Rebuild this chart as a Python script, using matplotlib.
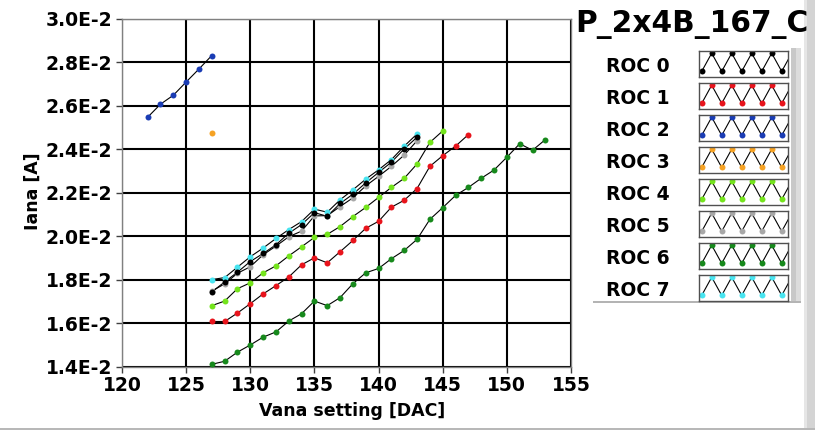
import matplotlib
matplotlib.use("Agg")
import matplotlib.pyplot as plt
from matplotlib.patches import Rectangle
from matplotlib.ticker import FuncFormatter, MultipleLocator
import numpy as np

# Vana scan per ROC: DAC setting and analog current (in units of 1E-2 A)
roc0_dac = [127, 128, 129, 130, 131, 132, 133, 134, 135, 136, 137, 138, 139, 140, 141, 142, 143]
roc0_iana = [1.744, 1.790, 1.835, 1.884, 1.921, 1.961, 2.014, 2.054, 2.109, 2.092, 2.151, 2.194, 2.246, 2.294, 2.341, 2.402, 2.456]

roc1_dac = [127, 128, 129, 130, 131, 132, 133, 134, 135, 136, 137, 138, 139, 140, 141, 142, 143, 144, 145, 146, 147]
roc1_iana = [1.608, 1.608, 1.647, 1.690, 1.735, 1.773, 1.813, 1.869, 1.901, 1.878, 1.929, 1.981, 2.037, 2.069, 2.134, 2.166, 2.220, 2.322, 2.371, 2.415, 2.468]

roc2_dac = [122, 123, 124, 125, 126, 127]
roc2_iana = [2.548, 2.608, 2.649, 2.710, 2.770, 2.832]

roc3_dac = [127]
roc3_iana = [2.474]

roc4_dac = [127, 128, 129, 130, 131, 132, 133, 134, 135, 136, 137, 138, 139, 140, 141, 142, 143, 144, 145]
roc4_iana = [1.681, 1.702, 1.759, 1.786, 1.832, 1.864, 1.910, 1.952, 1.995, 2.009, 2.045, 2.091, 2.133, 2.179, 2.225, 2.267, 2.333, 2.432, 2.485]

roc5_dac = [127, 128, 129, 130, 131, 132, 133, 134, 135, 136, 137, 138, 139, 140, 141, 142, 143]
roc5_iana = [1.748, 1.781, 1.830, 1.860, 1.915, 1.955, 1.998, 2.024, 2.094, 2.095, 2.137, 2.177, 2.232, 2.276, 2.322, 2.374, 2.440]

roc6_dac = [127, 128, 129, 130, 131, 132, 133, 134, 135, 136, 137, 138, 139, 140, 141, 142, 143, 144, 145, 146, 147, 148, 149, 150, 151, 152, 153]
roc6_iana = [1.411, 1.425, 1.467, 1.500, 1.536, 1.560, 1.610, 1.644, 1.702, 1.681, 1.718, 1.782, 1.832, 1.852, 1.897, 1.935, 1.986, 2.078, 2.132, 2.188, 2.225, 2.267, 2.305, 2.364, 2.426, 2.396, 2.445]

roc7_dac = [127, 128, 129, 130, 131, 132, 133, 134, 135, 136, 137, 138, 139, 140, 141, 142, 143]
roc7_iana = [1.801, 1.810, 1.858, 1.906, 1.946, 1.990, 2.031, 2.068, 2.125, 2.111, 2.168, 2.214, 2.263, 2.306, 2.353, 2.415, 2.471]

roc_names = ["ROC 0", "ROC 1", "ROC 2", "ROC 3", "ROC 4", "ROC 5", "ROC 6", "ROC 7"]
roc_colors = ["#000000", "#e8141c", "#1a3cb4", "#f5a224", "#74e41c", "#a8a8a8", "#17891c", "#48e4f0"]
module_name = "P_2x4B_167_C"

all_dac = [roc0_dac, roc1_dac, roc2_dac, roc3_dac, roc4_dac, roc5_dac, roc6_dac, roc7_dac]
all_iana = [roc0_iana, roc1_iana, roc2_iana, roc3_iana, roc4_iana, roc5_iana, roc6_iana, roc7_iana]

W, H = 815, 430
plt.rcParams['font.family'] = ['DejaVu Sans']
plt.rcParams['font.weight'] = 'bold'
fig = plt.figure(figsize=(W / 100, H / 100), dpi=100)


def px_axes(x0, y0, x1, y1, **kw):
    # axes from pixel box (top-left origin)
    return fig.add_axes([x0 / W, 1 - y1 / H, (x1 - x0) / W, (y1 - y0) / H], **kw)


ax = px_axes(122, 19, 571, 366.7)
for i in reversed(range(8)):
    y = np.array(all_iana[i]) * 1e-2
    ls = '-' if len(y) > 1 else 'none'
    ax.plot(all_dac[i], y, ls, color='black', lw=0.8, zorder=3)
    ax.plot(all_dac[i], y, 'o', color=roc_colors[i], ms=4.3, mec='none', zorder=4)

ax.set_xlim(120, 155)
ax.set_ylim(0.014, 0.030)
ax.xaxis.set_major_locator(MultipleLocator(5))
ax.yaxis.set_major_locator(MultipleLocator(0.002))
ax.yaxis.set_major_formatter(FuncFormatter(lambda v, p: f"{v * 100:.1f}E-2"))
ax.grid(True, color='black', lw=1.5, zorder=1)
ax.set_axisbelow(True)
for s in ax.spines.values():
    s.set_color('#808080')
    s.set_linewidth(1.0)
ax.tick_params(direction='out', length=4, width=1, color='#404040', labelsize=13.5, pad=3)
for lab in ax.get_xticklabels() + ax.get_yticklabels():
    lab.set_fontweight('bold')

ax.set_xlabel("Vana setting [DAC]", fontsize=12.5, fontweight='bold')
ax.xaxis.set_label_coords(0.513, -0.102)
ax.set_ylabel("Iana [A]", fontsize=12.5, fontweight='bold', va='center')
ax.yaxis.set_label_coords(-0.198, 0.505)

# title
fig.text(575 / W, 1 - 32 / H, module_name, fontsize=21.3, fontweight='bold', va='baseline', ha='left')

# legend panel
lg = px_axes(0, 0, W, H)
lg.set_xlim(0, W)
lg.set_ylim(H, 0)
lg.axis('off')
lg.add_patch(Rectangle((791, 48), 10, 254, color='#c8c8c8', lw=0))
lg.add_patch(Rectangle((796, 48), 5, 254, color='#dcdcdc', lw=0))
lg.add_patch(Rectangle((593, 301), 208, 2, color='#b4b4b4', lw=0))
lg.add_patch(Rectangle((804, 0), 11, H, color='#d4d4d4', lw=0))
lg.add_patch(Rectangle((804, 0), 3, H, color='#e6e6e6', lw=0))
lg.add_patch(Rectangle((0, 428), W, 2, color='#b8b8b8', lw=0))

zig_x = 2.7 + 10 * np.arange(10)
zig_y = np.where(np.arange(10) % 2 == 0, 5.3, 23.5)
for i, name in enumerate(roc_names):
    top = 50.7 + 32 * i
    lg.text(606, 71.7 + 32 * i, name, fontsize=13.5, fontweight='bold', va='baseline', ha='left')
    sa = px_axes(699, top, 788, top + 26)
    sa.set_xlim(0, 89)
    sa.set_ylim(0, 26)
    sa.set_xticks([])
    sa.set_yticks([])
    for s in sa.spines.values():
        s.set_color('#505050')
        s.set_linewidth(1.0)
    sa.plot(zig_x, zig_y, '-', color='black', lw=0.8)
    sa.plot(zig_x, zig_y, 'o', color=roc_colors[i], ms=4.3, mec='none')

fig.savefig("out.png", dpi=100)
